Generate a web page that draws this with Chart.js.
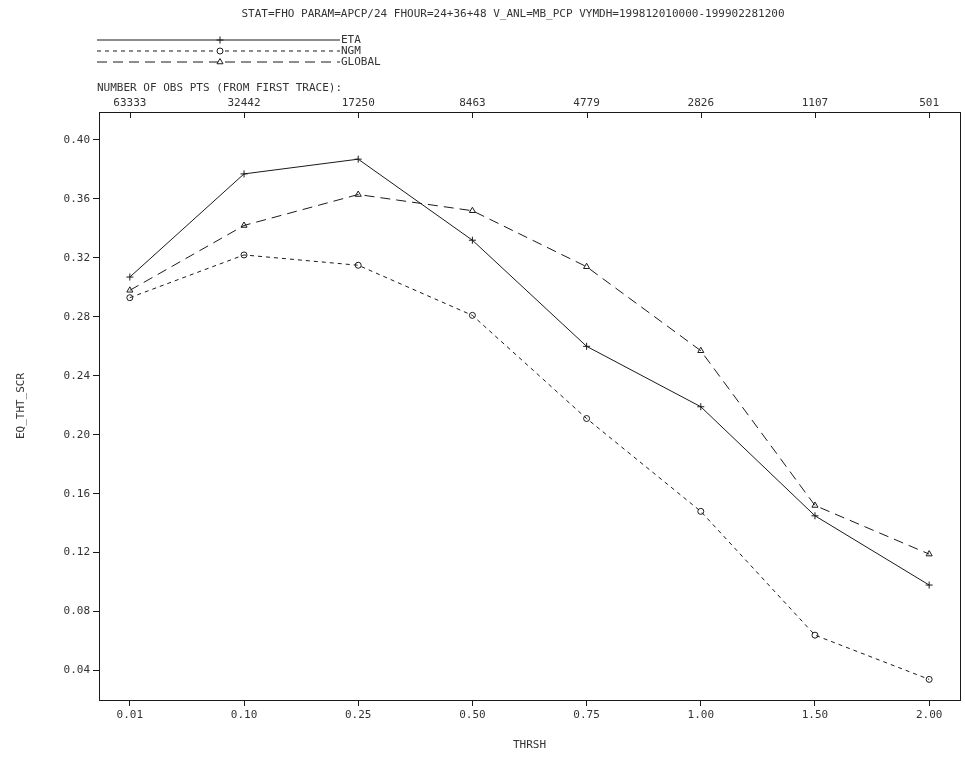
<!DOCTYPE html>
<html>
<head>
<meta charset="utf-8">
<script src="https://cdn.jsdelivr.net/npm/chart.js@4"></script>
<style>
  body { margin: 0; background: #fff; }
  #wrap { width: 965px; height: 763px; }
</style>
</head>
<body>
<div id="wrap"><canvas id="chart" width="965" height="763"></canvas></div>
<script>
// thresholds along the bottom, obs counts along the top
const thresholds = ["0.01", "0.10", "0.25", "0.50", "0.75", "1.00", "1.50", "2.00"];
const obsCounts = ["63333", "32442", "17250", "8463", "4779", "2826", "1107", "501"];

// equitable threat scores
const eta = [0.307, 0.377, 0.387, 0.332, 0.260, 0.219, 0.145, 0.098];
const ngm = [0.293, 0.322, 0.315, 0.281, 0.211, 0.148, 0.064, 0.034];
const globalModel = [0.298, 0.342, 0.363, 0.352, 0.314, 0.257, 0.152, 0.119];

const yTicks = [0.04, 0.08, 0.12, 0.16, 0.20, 0.24, 0.28, 0.32, 0.36, 0.40];

const FONT = "'DejaVu Sans Mono', monospace";
const INK = "#1a1a1a";
const TXT = "#333";

function toPoints(values) {
    return values.map((v, i) => ({ x: i, y: v }));
}

function categoryTicks(scale) {
    scale.ticks = thresholds.map((t, i) => ({ value: i }));
}

// title, legend, obs-count caption, frame and inner top ticks
const decorations = {
    id: "decorations",
    afterDraw(chart) {
        const ctx = chart.ctx;
        const area = chart.chartArea;
        ctx.save();
        ctx.fillStyle = TXT;
        ctx.font = "11px " + FONT;
        ctx.textBaseline = "middle";
        ctx.textAlign = "center";
        ctx.fillText("STAT=FHO PARAM=APCP/24 FHOUR=24+36+48 V_ANL=MB_PCP VYMDH=199812010000-199902281200", 513, 14);

        ctx.textAlign = "left";
        ctx.fillText("NUMBER OF OBS PTS (FROM FIRST TRACE):", 97, 88);

        // legend
        chart.data.datasets.forEach((ds, i) => {
            const y = 40 + i * 11;
            ctx.strokeStyle = INK;
            ctx.lineWidth = 1;
            ctx.setLineDash(ds.borderDash || []);
            ctx.beginPath();
            ctx.moveTo(97, y);
            ctx.lineTo(340, y);
            ctx.stroke();
            ctx.setLineDash([]);
            ctx.fillStyle = "#fff";
            Chart.helpers.drawPoint(ctx, {
                pointStyle: ds.pointStyle,
                radius: ds.pointRadius,
                borderWidth: 1
            }, 220, y);
            ctx.fillStyle = TXT;
            ctx.fillText(ds.label, 341, y);
        });

        // frame
        ctx.strokeStyle = INK;
        ctx.lineWidth = 1;
        ctx.strokeRect(area.left + 0.5, area.top + 0.5, area.right - area.left, area.bottom - area.top);

        // inward ticks on the top axis
        const xs = chart.scales.x;
        ctx.beginPath();
        thresholds.forEach((t, i) => {
            const px = Math.round(xs.getPixelForValue(i)) + 0.5;
            ctx.moveTo(px, area.top);
            ctx.lineTo(px, area.top + 6);
        });
        ctx.stroke();
        ctx.restore();
    }
};

function makeDataset(label, values, dash, style, radius) {
    return {
        label: label,
        data: toPoints(values),
        borderColor: INK,
        borderWidth: 1,
        borderDash: dash,
        pointStyle: style,
        pointRadius: radius,
        pointBorderWidth: 1,
        pointBorderColor: INK,
        pointBackgroundColor: "rgba(255,255,255,0)",
        fill: false,
        tension: 0
    };
}

new Chart(document.getElementById("chart"), {
    type: "line",
    data: {
        datasets: [
            makeDataset("ETA", eta, [], "cross", 3.5),
            makeDataset("NGM", ngm, [4, 4], "circle", 3),
            makeDataset("GLOBAL", globalModel, [10, 6], "triangle", 3.5)
        ]
    },
    options: {
        responsive: false,
        animation: false,
        layout: { padding: { left: 0, right: 4, top: 0, bottom: 0 } },
        plugins: {
            legend: { display: false },
            tooltip: { enabled: false }
        },
        scales: {
            x: {
                type: "linear",
                position: "bottom",
                min: -0.27,
                max: 7.27,
                afterBuildTicks: categoryTicks,
                afterFit(scale) { scale.height = 63; },
                ticks: {
                    callback: (v) => thresholds[v],
                    color: TXT,
                    font: { family: FONT, size: 11 },
                    padding: 3,
                    maxRotation: 0,
                    autoSkip: false
                },
                grid: { drawOnChartArea: false, drawTicks: true, tickLength: 6, color: INK },
                border: { display: true, color: INK },
                title: {
                    display: true,
                    text: "THRSH",
                    color: TXT,
                    font: { family: FONT, size: 11 },
                    padding: { top: 4, bottom: 11 }
                }
            },
            x2: {
                type: "linear",
                position: "top",
                min: -0.27,
                max: 7.27,
                afterBuildTicks: categoryTicks,
                afterFit(scale) { scale.height = 112; },
                ticks: {
                    callback: (v) => obsCounts[v],
                    color: TXT,
                    font: { family: FONT, size: 11 },
                    padding: 2,
                    maxRotation: 0,
                    autoSkip: false
                },
                grid: { display: false, drawTicks: false, tickLength: 0 },
                border: { display: false }
            },
            y: {
                type: "linear",
                min: 0.02,
                max: 0.419,
                afterBuildTicks(scale) {
                    scale.ticks = yTicks.map((v) => ({ value: v }));
                },
                afterFit(scale) { scale.width = 99; },
                ticks: {
                    callback: (v) => v.toFixed(2),
                    color: TXT,
                    font: { family: FONT, size: 11 },
                    padding: 3
                },
                grid: { drawOnChartArea: false, drawTicks: true, tickLength: 6, color: INK },
                border: { display: true, color: INK },
                title: {
                    display: true,
                    text: "EQ_THT_SCR",
                    color: TXT,
                    font: { family: FONT, size: 11 },
                    padding: { top: 15, bottom: 0 }
                }
            }
        }
    },
    plugins: [decorations]
});
</script>
</body>
</html>
